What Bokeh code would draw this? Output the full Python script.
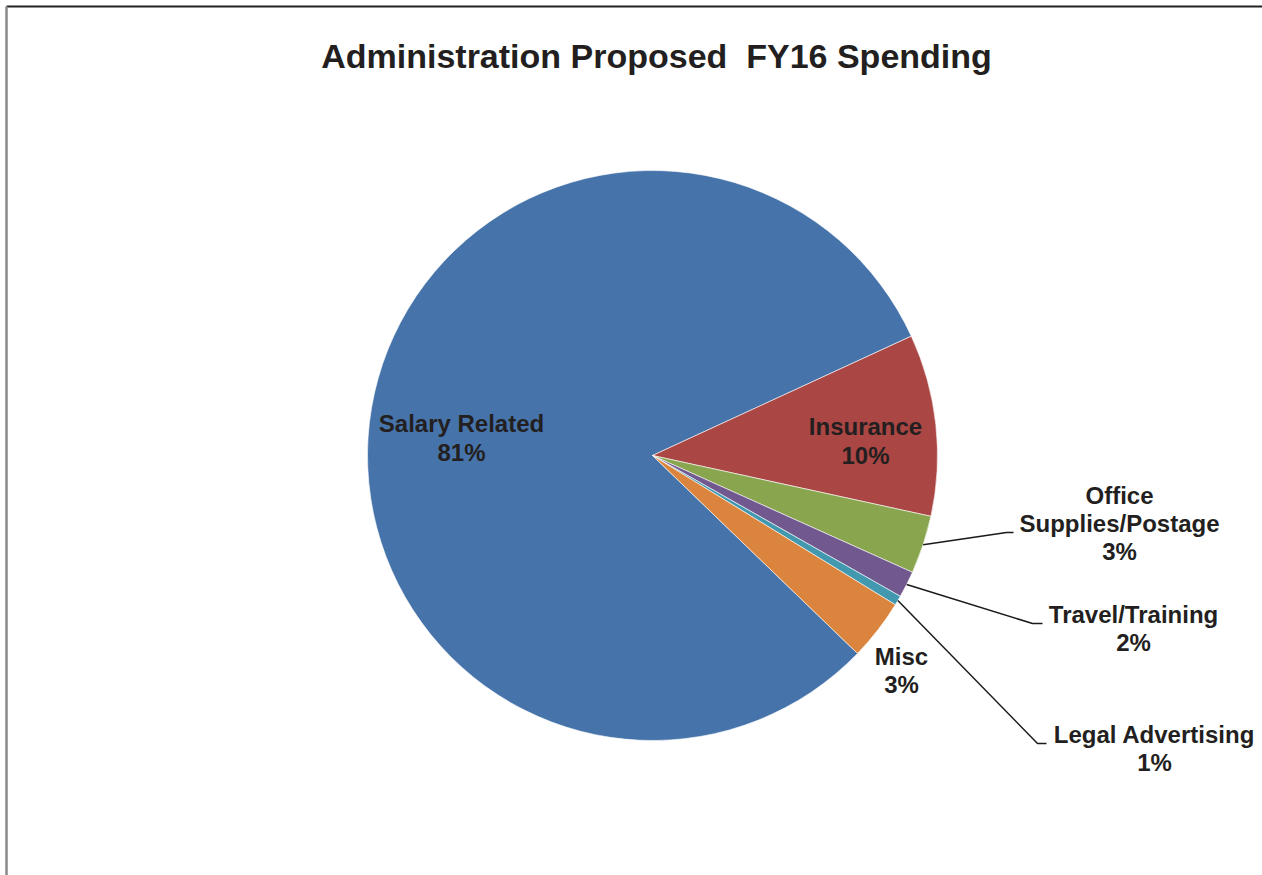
import math
from bokeh.plotting import figure
from bokeh.models import Range1d, ColumnDataSource
from bokeh.core.properties import value
from bokeh.embed import file_html
from bokeh.resources import INLINE

# ---- data ----
categories = ["Salary Related", "Insurance", "Office Supplies/Postage",
              "Travel/Training", "Legal Advertising", "Misc"]
shares = [80.9, 10.3, 3.3, 1.5, 0.55, 3.45]
colors = ["#4674AA", "#AA4643", "#89A54E", "#71588F", "#4198AF", "#DB843D"]
title_text = "Administration Proposed \u00a0FY16 Spending"

# ---- layout ----
W, H = 1262, 875
CX, CY, R = 652, 455, 285          # screen coords of pie centre, radius
END_OF_FIRST = 24.76               # degrees (math), where first slice ends (clockwise)
FONT = "Liberation Sans"
TXT = "#231F20"
LBL_SIZE = 24
TITLE_SIZE = 34
BASE_FIX = 0.37                    # baseline correction (em)

def sy(y):
    return H - y

p = figure(width=W, height=H, x_range=Range1d(0, W), y_range=Range1d(0, H),
           output_backend="svg", toolbar_location=None, min_border=0,
           background_fill_color="white", border_fill_color="white")
p.axis.visible = False
p.grid.visible = False
p.outline_line_color = None

# wedges: clockwise, first slice (Salary) ending at END_OF_FIRST
total = sum(shares)
start_first = END_OF_FIRST + shares[0] / total * 360.0
starts, ends, mids = [], [], []
cum = 0.0
for v in shares:
    a_hi = start_first - cum / total * 360.0
    a_lo = a_hi - v / total * 360.0
    cum += v
    starts.append(math.radians(a_lo))
    ends.append(math.radians(a_hi))
    mids.append(math.radians((a_lo + a_hi) / 2))

src = ColumnDataSource(dict(start=starts, end=ends, color=colors, cat=categories))
p.wedge(x=CX, y=sy(CY), radius=R, start_angle="start", end_angle="end",
        direction="anticlock", fill_color="color", line_color="white",
        line_width=0.6, source=src)

# labels (name lines + percentage); positions are layout (baselines)
label_layout = {
    "Salary Related": (461, [432], 461),
    "Insurance": (865, [435], 464),
    "Office Supplies/Postage": (1119, [504, 532], 560),
    "Travel/Training": (1133, [623], 651),
    "Legal Advertising": (1154, [743], 771),
    "Misc": (901, [665], 693),
}
name_lines = {
    "Office Supplies/Postage": ["Office", "Supplies/Postage"],
}
lfix = BASE_FIX * LBL_SIZE
tx, ty, tt = [], [], []
for cat, v in zip(categories, shares):
    x, ys, py = label_layout[cat]
    lines = name_lines.get(cat, [cat])
    for ln, yy in zip(lines, ys):
        tx.append(x); ty.append(sy(yy - lfix)); tt.append(ln)
    tx.append(x); ty.append(sy(py - lfix)); tt.append(f"{int(v / total * 100 + 0.5)}%")

p.text(x=tx, y=ty, text=tt, text_align="center", text_baseline="alphabetic",
       text_font=value(FONT), text_font_size=f"{LBL_SIZE}px", text_font_style="bold",
       text_color=TXT)

# leader lines for outside labels: from slice edge at mid-angle to elbow to end
leader_layout = {
    "Office Supplies/Postage": [(1006, 532), (1013, 532)],
    "Travel/Training": [(1032, 623), (1042, 623)],
    "Legal Advertising": [(1037, 743), (1046, 743)],
}
for cat, m in zip(categories, mids):
    if cat in leader_layout:
        x0 = CX + R * math.cos(m)
        y0 = CY - R * math.sin(m)
        pts = [(x0, y0)] + leader_layout[cat]
        p.line([q[0] for q in pts], [sy(q[1]) for q in pts],
               line_color="#1a1a1a", line_width=1.5)

# title
p.text(x=[656], y=[sy(68 - BASE_FIX * TITLE_SIZE)], text=[title_text], text_align="center",
       text_baseline="alphabetic", text_font=value(FONT), text_font_size=f"{TITLE_SIZE}px",
       text_font_style="bold", text_color=TXT)

# frame lines (top and left)
p.line([6, W], [sy(6), sy(6)], line_color="#222222", line_width=2)
p.line([6, 6], [sy(6), 0], line_color="#8a8a8a", line_width=2.5)

open("out.html", "w").write(file_html(p, INLINE))
